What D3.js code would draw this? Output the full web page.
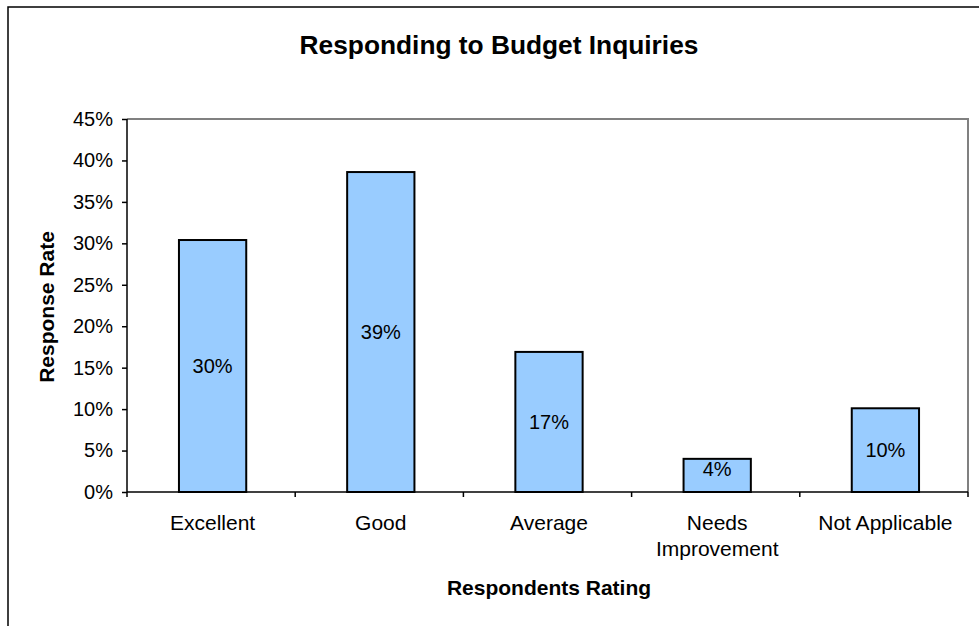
<!DOCTYPE html>
<html>
<head>
<meta charset="utf-8">
<script src="https://cdn.jsdelivr.net/npm/d3@7"></script>
<style>
  html, body { margin: 0; padding: 0; background: #fff; }
  svg { display: block; font-family: "Liberation Sans", Arial, sans-serif; }
</style>
</head>
<body>
<svg id="chart" width="979" height="626"></svg>
<script>
// Survey results: share of respondents per rating
const categories = ["Excellent", "Good", "Average", "Needs Improvement", "Not Applicable"];
const responseRates = [30.4, 38.6, 16.9, 4.0, 10.1];
const yTicks = [0, 5, 10, 15, 20, 25, 30, 35, 40, 45];

const svg = d3.select("#chart");
const W = 979, H = 626;
const plot = { left: 127, right: 968, top: 119, bottom: 492 };

// Outer chart frame (runs off the right and bottom edges)
svg.append("rect")
  .attr("x", 8).attr("y", 7)
  .attr("width", W + 20).attr("height", H + 20)
  .attr("fill", "#fff").attr("stroke", "#000").attr("stroke-width", 1.5);

const x = d3.scaleBand()
  .domain(categories)
  .range([plot.left + 1.5, plot.right + 1.5])
  .paddingInner(0.6)
  .paddingOuter(0.3);

const y = d3.scaleLinear().domain([0, 45]).range([plot.bottom, plot.top]);

// Plot area top and right edges
svg.append("path")
  .attr("d", `M${plot.left},${plot.top}H${plot.right}V${plot.bottom}`)
  .attr("fill", "none").attr("stroke", "#808080").attr("stroke-width", 2);

// Bars
svg.append("g").selectAll("rect")
  .data(categories)
  .join("rect")
  .attr("x", d => x(d))
  .attr("width", x.bandwidth())
  .attr("y", (d, i) => y(responseRates[i]))
  .attr("height", (d, i) => y(0) - y(responseRates[i]))
  .attr("fill", "#99CCFF")
  .attr("stroke", "#000")
  .attr("stroke-width", 2);

// Value labels centred in each bar; short bars keep the label near the top
svg.append("g").selectAll("text")
  .data(categories)
  .join("text")
  .attr("x", d => x(d) + x.bandwidth() / 2)
  .attr("y", (d, i) => {
    const top = y(responseRates[i]);
    const h = y(0) - top;
    return h < 40 ? top + 10 : top + h / 2;
  })
  .attr("dy", "0.35em")
  .attr("text-anchor", "middle")
  .attr("font-size", 20)
  .attr("fill", "#000")
  .text((d, i) => d3.format(".0f")(responseRates[i]) + "%");

// Y axis
const yAxis = d3.axisLeft(y)
  .tickValues(yTicks)
  .tickFormat(d => d + "%")
  .tickSize(5)
  .tickPadding(9)
  .tickSizeOuter(0);
const yG = svg.append("g")
  .attr("transform", `translate(${plot.left},0)`)
  .call(yAxis);
yG.select(".domain").remove();
yG.append("line")
  .attr("x1", 0).attr("x2", 0)
  .attr("y1", plot.top).attr("y2", plot.bottom + 5)
  .attr("stroke", "#000").attr("stroke-width", 1.5);
yG.selectAll(".tick line").attr("stroke", "#000").attr("stroke-width", 1.5);
yG.selectAll(".tick text")
  .attr("font-size", 20).attr("font-family", "Liberation Sans, Arial, sans-serif")
  .attr("fill", "#000");

// X axis: baseline plus tick marks at category boundaries
svg.append("line")
  .attr("x1", plot.left).attr("x2", plot.right)
  .attr("y1", plot.bottom).attr("y2", plot.bottom)
  .attr("stroke", "#000").attr("stroke-width", 1.5);
const step = (plot.right - plot.left) / categories.length;
svg.append("g").selectAll("line")
  .data(d3.range(1, categories.length + 1))
  .join("line")
  .attr("x1", i => plot.left + i * step).attr("x2", i => plot.left + i * step)
  .attr("y1", plot.bottom).attr("y2", plot.bottom + 5)
  .attr("stroke", "#000").attr("stroke-width", 1.5);

// Category labels (wrapped onto two lines where needed)
const catLines = { "Needs Improvement": ["Needs", "Improvement"] };
svg.append("g").selectAll("text")
  .data(categories)
  .join("text")
  .attr("text-anchor", "middle")
  .attr("font-size", 21)
  .attr("fill", "#000")
  .each(function (d) {
    const lines = catLines[d] || [d];
    const t = d3.select(this);
    lines.forEach((ln, k) => {
      t.append("tspan")
        .attr("x", x(d) + x.bandwidth() / 2)
        .attr("y", 530 + k * 26)
        .text(ln);
    });
  });

// Titles
svg.append("text")
  .attr("x", 499).attr("y", 54)
  .attr("text-anchor", "middle")
  .attr("font-size", 26.3).attr("font-weight", "bold")
  .text("Responding to Budget Inquiries");

svg.append("text")
  .attr("x", 549).attr("y", 595)
  .attr("text-anchor", "middle")
  .attr("font-size", 21).attr("font-weight", "bold")
  .text("Respondents Rating");

svg.append("text")
  .attr("transform", "translate(54,307) rotate(-90)")
  .attr("text-anchor", "middle")
  .attr("font-size", 21).attr("font-weight", "bold")
  .text("Response Rate");
</script>
</body>
</html>
